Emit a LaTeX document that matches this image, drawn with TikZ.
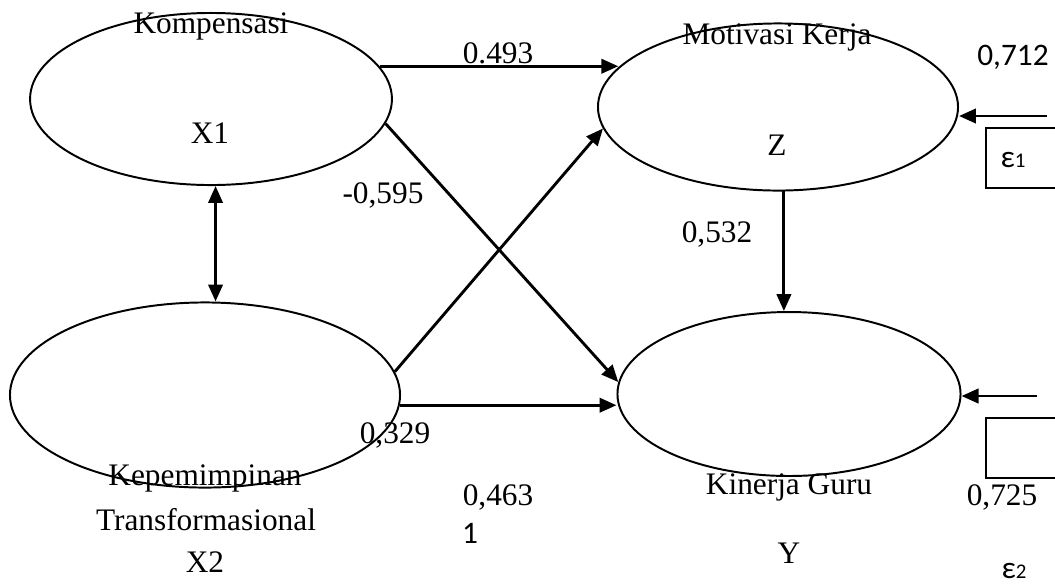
\documentclass[tikz,border=0pt]{standalone}
\usepackage{fontspec}
\setmainfont{Liberation Serif}
\newfontfamily\calibri{Carlito}
\usetikzlibrary{shapes.geometric,arrows.meta}

\begin{document}
\begin{tikzpicture}[x=0.383pt, y=-0.383pt, font=\fontsize{12}{14}\selectfont,
  >={Triangle[length=6.5pt,width=5.5pt]},
  latent/.style={draw, ellipse, line width=0.75pt, inner sep=0pt},
  errbox/.style={draw, line width=0.75pt, anchor=north west, minimum width=40pt, minimum height=23pt},
  txt/.style={anchor=base, inner sep=0pt},
  sans/.style={font=\calibri\fontsize{12}{14}\selectfont},
  arr/.style={->, line width=1.1pt}]
\useasboundingbox (0,0) rectangle (1055,586);
% latent variables
\node[latent, minimum width=138.6pt, minimum height=65.9pt] (X1) at (211,99) {};
\node[latent, minimum width=137.9pt, minimum height=64pt] (Z) at (778,107) {};
\node[latent, minimum width=149.4pt, minimum height=70.9pt] (X2) at (205,395) {};
\node[latent, minimum width=131.4pt, minimum height=62.8pt] (Y) at (789,394) {};
\node[txt] (X1a) at (211,33) {Kompensasi};
\node[txt] (X1b) at (210,143) {X1};
\node[txt] (Za) at (777,44) {Motivasi Kerja};
\node[txt] (Zb) at (777,155) {Z};
\node[txt] (X2a) at (205,485) {Kepemimpinan};
\node[txt] (X2b) at (206,530) {Transformasional};
\node[txt] (X2c) at (205,572) {X2};
\node[txt] (Ya) at (789,494) {Kinerja Guru};
\node[txt] (Yb) at (789,563) {Y};
% error terms
\node[errbox] (B1) at (985,127) {};
\node[errbox] (B2) at (985,417) {};
\node[txt, sans] (E1a) at (1013,167) {{\fontsize{12}{14}\selectfont ε}{\fontsize{8}{9}\selectfont 1}};
\node[txt, sans] (E2a) at (1014,578) {{\fontsize{12}{14}\selectfont ε}{\fontsize{8}{9}\selectfont 2}};
\node[txt, sans] (R1) at (1013,65) {0,712};
\node[txt] (R2) at (1002,505) {0,725};
\coordinate (E1) at (1047,116);
\coordinate (E2) at (1037,396);
% path coefficients
\node[txt] (C1) at (498,63) {0.493};
\node[txt] (C2) at (383,203) {-0,595};
\node[txt] (C3) at (717,242) {0,532};
\node[txt] (C4) at (395,443) {0,329};
\node[txt] (C5) at (498,505) {0,463};
\node[txt, sans] (C6) at (470,543) {1};
% paths
\draw[arr] (X1.11) -- (X1.11 -| Z.166);
\draw[arr] (X1.-8) -- (Y.176);
\draw[arr] (X2.7) -- (Z.187);
\draw[arr] (X2.-3) -- (X2.-3 -| Y.west);
\draw[arr] (Z.-86) -- (Z.-86 |- Y.north);
\draw[arr, <->] (X1.-87) -- (X1.-87 |- X2.north);
\draw[arr] (E1) -- (E1 -| Z.east);
\draw[arr] (E2) -- (E2 -| Y.east);
\end{tikzpicture}
\end{document}
